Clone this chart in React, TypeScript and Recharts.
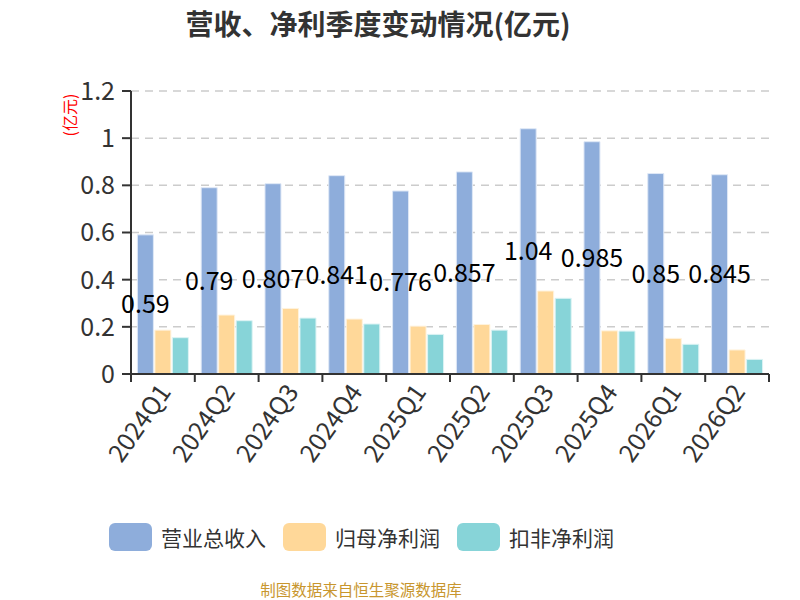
import { BarChart, Bar, XAxis, YAxis, CartesianGrid, Legend, LabelList } from 'recharts';

const quarters = ['2024Q1', '2024Q2', '2024Q3', '2024Q4', '2025Q1', '2025Q2', '2025Q3', '2025Q4', '2026Q1', '2026Q2'];
const revenue = [0.59, 0.79, 0.807, 0.841, 0.776, 0.857, 1.04, 0.985, 0.85, 0.845];
const netProfit = [0.186, 0.25, 0.278, 0.233, 0.203, 0.21, 0.352, 0.183, 0.151, 0.102];
const deductedProfit = [0.154, 0.226, 0.237, 0.212, 0.168, 0.186, 0.321, 0.182, 0.126, 0.062];
const yTicks = [0, 0.2, 0.4, 0.6, 0.8, 1, 1.2];

const seriesNames = ['营业总收入', '归母净利润', '扣非净利润'];
const colors = ['#8eaddb', '#ffd899', '#87d4d8'];

const data = quarters.map((q, i) => ({
  q,
  rev: revenue[i],
  net: netProfit[i],
  ded: deductedProfit[i],
}));

const W = 800;
const H = 600;
const M = { top: 91, right: 31, left: 71, bottom: 126 };
const Y_W = 60;
const band = (W - M.left - M.right - Y_W) / quarters.length;

const font = '"Noto Sans CJK SC", "Noto Sans", sans-serif';

function QuarterTick(props: any) {
  const { x, y, payload, index } = props;
  const ay = y - 8;
  return (
    <g>
      <line x1={x - band / 2} x2={x - band / 2} y1={ay} y2={ay + 8} stroke="#333" strokeWidth={2} />
      {index === quarters.length - 1 && (
        <line x1={x + band / 2} x2={x + band / 2} y1={ay} y2={ay + 8} stroke="#333" strokeWidth={2} />
      )}
      <text
        x={x + 2}
        y={y + 5}
        dy="0.35em"
        textAnchor="end"
        fill="#333"
        fontSize={25}
        fontFamily={font}
        transform={`rotate(-55, ${x + 2}, ${y + 5})`}
      >
        {payload.value}
      </text>
    </g>
  );
}

function LegendBox() {
  return (
    <div style={{ display: 'flex', alignItems: 'center', fontFamily: font }}>
      {seriesNames.map((n, i) => (
        <div key={n} style={{ display: 'flex', alignItems: 'center', marginRight: 17 }}>
          <span style={{ width: 43, height: 28, borderRadius: 6, background: colors[i], display: 'inline-block' }} />
          <span style={{ marginLeft: 9, fontSize: 21, color: '#333' }}>{n}</span>
        </div>
      ))}
    </div>
  );
}

export default function App() {
  return (
    <div style={{ position: 'absolute', left: 0, top: 0, width: W, height: H, background: '#fff', fontFamily: font }}>
      <div style={{ position: 'absolute', left: 0, width: 756, top: 3, textAlign: 'center', fontSize: 28, fontWeight: 700, color: '#333' }}>
        营收、净利季度变动情况(亿元)
      </div>
      <BarChart width={W} height={H} data={data} margin={M} barCategoryGap="10%" barGap={1.5}>
        <CartesianGrid vertical={false} stroke="#ccc" strokeDasharray="8 6" strokeWidth={1.5} />
        <XAxis
          dataKey="q"
          height={100}
          interval={0}
          tickLine={false}
          tickSize={8}
          tickMargin={0}
          axisLine={{ stroke: '#333', strokeWidth: 2 }}
          tick={<QuarterTick />}
        />
        <YAxis
          width={Y_W}
          domain={[0, 1.2]}
          ticks={yTicks}
          interval={0}
          tickSize={9}
          tickMargin={7}
          axisLine={{ stroke: '#333', strokeWidth: 2 }}
          tickLine={{ stroke: '#333', strokeWidth: 2 }}
          tick={{ fill: '#333', fontSize: 25, fontFamily: font }}
          label={({ viewBox }: any) => (
            <text
              x={viewBox.x - 2}
              y={viewBox.y + 24}
              fill="#f00"
              fontSize={16}
              fontFamily={font}
              textAnchor="middle"
              dominantBaseline="central"
              transform={`rotate(-90, ${viewBox.x - 2}, ${viewBox.y + 24})`}
            >
              (亿元)
            </text>
          )}
        />
        <Legend
          verticalAlign="middle"
          content={<LegendBox />}
          wrapperStyle={{ top: 522, left: 109, width: 600 }}
        />
        <Bar dataKey="rev" name={seriesNames[0]} fill={colors[0]} stroke="#dfe8f6" strokeWidth={1} isAnimationActive={false}>
          <LabelList dataKey="rev" position="center" fill="#000" fontSize={25} fontFamily={font} />
        </Bar>
        <Bar dataKey="net" name={seriesNames[1]} fill={colors[1]} stroke="#fff3de" strokeWidth={1} isAnimationActive={false} />
        <Bar dataKey="ded" name={seriesNames[2]} fill={colors[2]} stroke="#dcf3f4" strokeWidth={1} isAnimationActive={false} />
      </BarChart>
      <div style={{ position: 'absolute', left: 0, width: 722, top: 578, textAlign: 'center', fontSize: 15.5, color: '#c8962e' }}>
        制图数据来自恒生聚源数据库
      </div>
    </div>
  );
}
